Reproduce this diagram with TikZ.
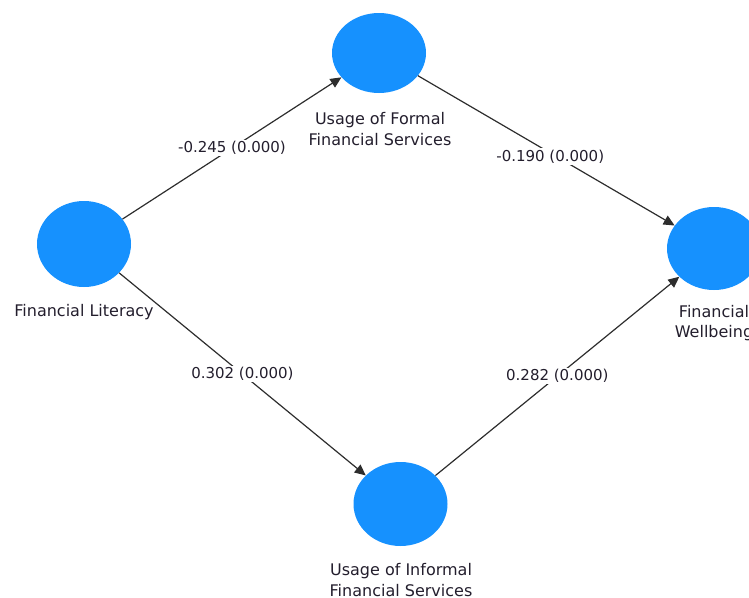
\documentclass[tikz,border=0pt]{standalone}
\usepackage{fontspec}
\setmainfont{DejaVu Sans}
\usetikzlibrary{arrows.meta,shapes.geometric}
\definecolor{lvblue}{RGB}{22,145,254}
\definecolor{txt}{RGB}{35,30,45}
\definecolor{edgec}{RGB}{45,45,45}
\tikzset{
  lv/.style={ellipse, fill=lvblue, draw=none, minimum width=94pt, minimum height=84pt, inner sep=0pt},
  lvlabel/.style={text=txt, font=\fontsize{16}{20.5}\selectfont, align=center, inner sep=0pt},
  path/.style={draw=edgec, line width=1.2pt, -{Triangle[length=11pt,width=10pt]}},
  coef/.style={fill=white, text=txt, font=\fontsize{15}{18}\selectfont, inner sep=1.5pt}
}
\begin{document}
\begin{tikzpicture}[x=1pt,y=-1pt]
\useasboundingbox (0,0) rectangle (749,597);
\clip (0,0) rectangle (749,597);
\node[lv, minimum height=86pt] (fl) at (84,244) {};
\node[lv, minimum height=80pt] (ff) at (379,53) {};
\node[lv, minimum height=83pt] (fw) at (714,248.5) {};
\node[lv, minimum height=84pt] (fi) at (400.5,504) {};
\node[lvlabel] (flt) at (84,312) {Financial Literacy};
\node[lvlabel] (fft) at (380,129) {Usage of Formal\\Financial Services};
\node[lvlabel] (fwt) at (714,323) {Financial\\Wellbeing};
\node[lvlabel] (fit) at (401,580) {Usage of Informal\\Financial Services};
\draw[path] (fl) -- node[coef] (c1) {-0.245 (0.000)} (ff);
\draw[path] (ff) -- node[coef, yshift=-6pt, xshift=4pt] (c2) {-0.190 (0.000)} (fw);
\draw[path] (fl) -- node[coef] (c3) {0.302 (0.000)} (fi);
\draw[path] (fi) -- node[coef] (c4) {0.282 (0.000)} (fw);
\end{tikzpicture}
\end{document}
